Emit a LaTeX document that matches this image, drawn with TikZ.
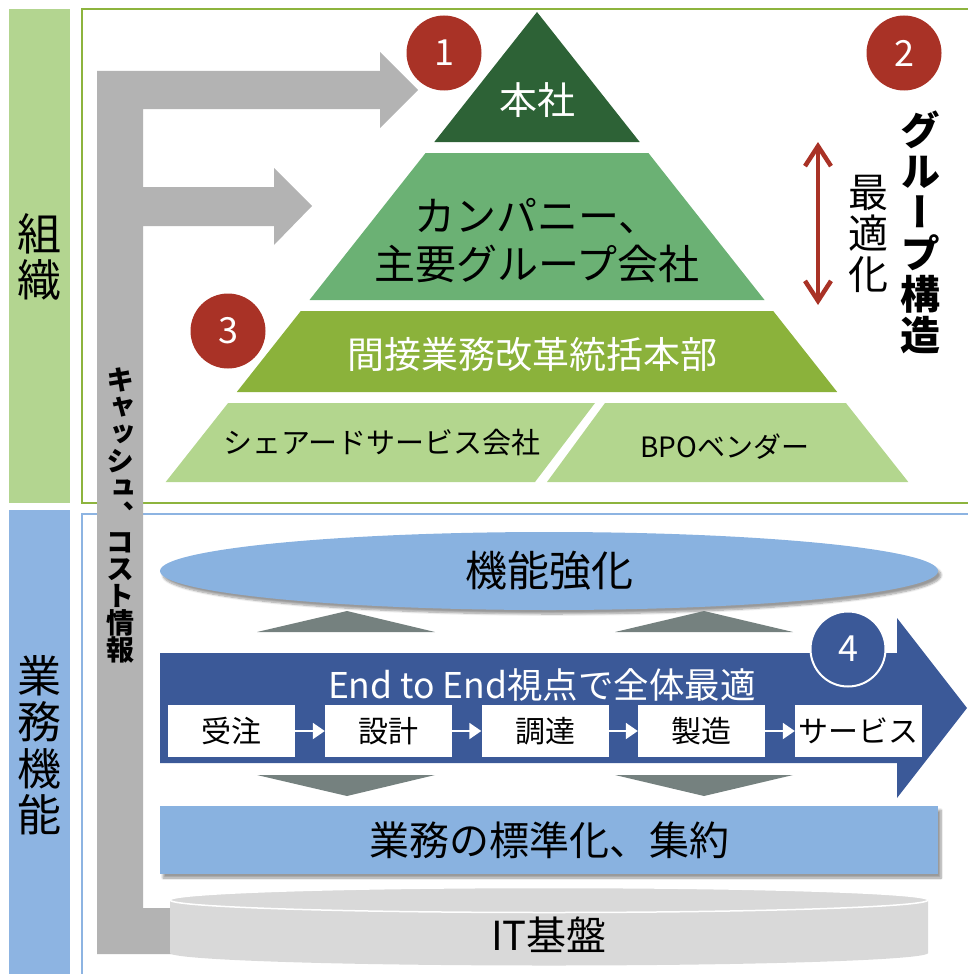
\documentclass[tikz,border=0pt]{standalone}
\usepackage{fontspec}
\setmainfont{Noto Sans CJK JP}
\newfontfamily\vjp[RawFeature=+vert]{Noto Sans CJK JP}
\usetikzlibrary{arrows.meta,shadows.blur,shapes.geometric}
\definecolor{sideG}{HTML}{B3D590}
\definecolor{sideB}{HTML}{8DB4E2}
\definecolor{frameG}{HTML}{8DB43E}
\definecolor{frameB}{HTML}{8DB4E2}
\definecolor{lgray}{HTML}{B3B3B3}
\definecolor{tier1}{HTML}{2D6236}
\definecolor{tier2}{HTML}{6BB174}
\definecolor{tier3}{HTML}{8BB23B}
\definecolor{tier4}{HTML}{B3D68E}
\definecolor{cRed}{HTML}{A93226}
\definecolor{dBlue}{HTML}{3B5998}
\definecolor{lBlue}{HTML}{89B2E0}
\definecolor{triG}{HTML}{75817F}
\definecolor{cylG}{HTML}{D9D9D9}
\newcommand\fs[2]{\fontsize{#1}{#2}\selectfont}
\begin{document}
\begin{tikzpicture}[x=1pt,y=-1pt,
  lbl/.style={inner sep=0pt,align=center},
  numc/.style={circle,fill=cRed,text=white,minimum size=75pt,inner sep=0pt,font=\fs{36}{36}},
  pbox/.style={fill=white,minimum width=127pt,minimum height=52pt,inner sep=0pt,font=\fs{30}{30}},
  parrow/.style={white,line width=2pt,-{Triangle[length=12pt,width=16pt]}},
  redarr/.style={cRed,line width=4.5pt,{Straight Barb[length=20pt,width=26pt]}-{Straight Barb[length=20pt,width=26pt]}},
  shad/.style={blur shadow={shadow xshift=3pt,shadow yshift=-4pt,shadow opacity=40,shadow blur steps=8}}
]
\useasboundingbox (0,0) rectangle (967,974);
% sidebars
\fill[sideG] (9,9) rectangle (70,503);
\fill[sideB] (9,510) rectangle (70,974);
\node[lbl,font=\vjp\fs{44}{46}] (sOrg) at (39,257) {組\\織};
\node[lbl,font=\vjp\fs{44}{46.5}] (sFun) at (39,745) {業\\務\\機\\能};
% frames
\draw[frameG,line width=1.5pt] (968,9) -- (82,9) -- (82,503) -- (968,503);
\draw[frameB,line width=1.5pt] (968,514) -- (82,514) -- (82,975);
% gray L-arrow
\fill[lgray] (97,71) -- (380,71) -- (380,52) -- (418,90) -- (380,128) -- (380,109)
  -- (143,109) -- (143,187) -- (274,187) -- (274,168) -- (312,206) -- (274,245)
  -- (274,226) -- (143,226) -- (143,908) -- (200,908) -- (200,954) -- (97,954) -- cycle;
\node[lbl,font=\vjp\bfseries\fs{28}{27}] (cash) at (120,515)
  {キ\\ャ\\ッ\\シ\\ュ\\、\\コ\\ス\\ト\\情\\報};
% pyramid
\fill[tier1] (537,12) -- (639.7,142) -- (434.3,142) -- cycle;
\fill[tier2] (425.6,153) -- (648.4,153) -- (764.5,300) -- (309.5,300) -- cycle;
\fill[tier3] (300.8,311) -- (773.2,311) -- (837.2,392) -- (236.8,392) -- cycle;
\fill[tier4] (228.1,403) -- (595,403) -- (535,482) -- (165.7,482) -- cycle;
\fill[tier4] (605,403) -- (845.9,403) -- (908.3,482) -- (547,482) -- cycle;
\node[lbl,text=white,font=\fs{38}{38}] (hq) at (537,100) {本社};
\node[lbl,font=\fs{41}{48}] (comp) at (537,241) {カンパニー、\\主要グループ会社};
\node[lbl,text=white,font=\fs{37}{37}] (ind) at (532,354) {間接業務改革統括本部};
\node[lbl,font=\fs{29}{29}] (ssc) at (382,443) {シェアードサービス会社};
\node[lbl,font=\fs{28}{28}] (bpo) at (725,447) {BPOベンダー};
% circles
\node[numc] (c1) at (444,53) {1};
\node[numc] (c2) at (904,53) {2};
\node[numc] (c3) at (228,331) {3};
% group structure
\coordinate (ra1) at (818,142);
\coordinate (ra2) at (818,305);
\draw[redarr] (ra1) -- (ra2);
\node[lbl,font=\vjp\fs{40}{41}] (opt) at (868,234) {最\\適\\化};
\node[lbl,font=\vjp\bfseries\fs{40}{41}] (grp) at (920,232) {グ\\ル\\ー\\プ\\構\\造};
% bottom half
\node[ellipse,fill=lBlue,minimum width=778pt,minimum height=78pt,inner sep=0pt,shad,
  font=\fs{42}{42}] (ell) at (549,571) {機能強化};
\fill[triG] (257,632) -- (347,611) -- (435,632) -- cycle;
\fill[triG] (615,632) -- (704,611) -- (793,632) -- cycle;
\fill[triG] (257,775) -- (347,796) -- (435,775) -- cycle;
\fill[triG] (615,775) -- (704,796) -- (793,775) -- cycle;
\fill[dBlue] (160,653) -- (897,653) -- (897,618) -- (967,708) -- (897,798) -- (897,763) -- (160,763) -- cycle;
\node[lbl,text=white,font=\fs{35.5}{35.5}] (e2e) at (542,685) {End to End視点で全体最適};
\node[pbox] (b1) at (231.5,731) {受注};
\node[pbox] (b2) at (388.5,731) {設計};
\node[pbox] (b3) at (545,731) {調達};
\node[pbox] (b4) at (701.5,731) {製造};
\node[pbox] (b5) at (858.5,731) {サービス};
\draw[parrow] (b1) -- (b2);
\draw[parrow] (b2) -- (b3);
\draw[parrow] (b3) -- (b4);
\draw[parrow] (b4) -- (b5);
\node[circle,fill=dBlue,draw=white,line width=2pt,text=white,minimum size=75pt,inner sep=0pt,
  font=\fs{36}{36}] (c4) at (848,649) {4};
\node[fill=lBlue,minimum width=778pt,minimum height=68pt,inner sep=0pt,shad,
  font=\fs{40}{40}] (std) at (549,840) {業務の標準化、集約};
% cylinder
\fill[cylG] (170,900) -- (170,953) arc[start angle=180,end angle=360,x radius=379pt,y radius=12.5pt]
  -- (928,900) -- cycle;
\draw[white,line width=1.5pt,fill=cylG] (549,900) ellipse[x radius=379pt,y radius=12.5pt];
\node[lbl,font=\fs{40}{40}] (it) at (549,935) {IT基盤};
\end{tikzpicture}
\end{document}
